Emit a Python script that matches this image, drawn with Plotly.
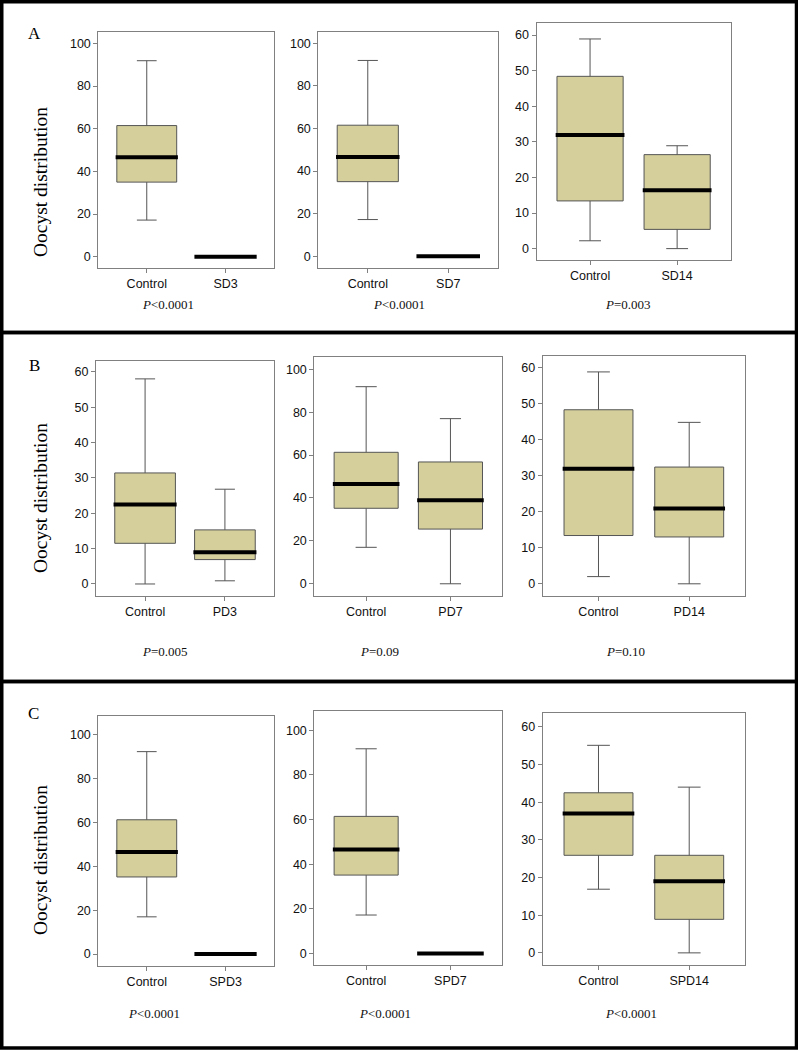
import plotly.graph_objects as go

W, H = 798, 1050

# ---------------- data (lower whisker, Q1, median, Q3, upper whisker) ----------------
labels_SD3 = ["Control", "SD3"]
SD3_control = [17.2, 35.0, 46.6, 61.5, 91.9]
SD3_treated = [0.0, 0.0, 0.0, 0.0, 0.0]

labels_SD7 = ["Control", "SD7"]
SD7_control = [17.2, 35.0, 46.6, 61.5, 91.9]
SD7_treated = [0.0, 0.0, 0.0, 0.0, 0.0]

labels_SD14 = ["Control", "SD14"]
SD14_control = [2.2, 13.4, 31.9, 48.4, 58.9]
SD14_treated = [0.0, 5.4, 16.4, 26.4, 28.9]

labels_PD3 = ["Control", "PD3"]
PD3_control = [0.0, 11.5, 22.5, 31.4, 58.0]
PD3_treated = [0.9, 6.9, 9.0, 15.3, 26.8]

labels_PD7 = ["Control", "PD7"]
PD7_control = [17.0, 35.2, 46.5, 61.3, 91.9]
PD7_treated = [0.0, 25.5, 38.9, 56.8, 77.0]

labels_PD14 = ["Control", "PD14"]
PD14_control = [2.0, 13.4, 31.9, 48.3, 58.8]
PD14_treated = [0.0, 13.0, 20.9, 32.4, 44.8]

labels_SPD3 = ["Control", "SPD3"]
SPD3_control = [17.0, 35.2, 46.6, 61.3, 92.4]
SPD3_treated = [0.0, 0.0, 0.0, 0.0, 0.0]

labels_SPD7 = ["Control", "SPD7"]
SPD7_control = [17.2, 35.1, 46.6, 61.4, 91.7]
SPD7_treated = [0.0, 0.0, 0.0, 0.0, 0.0]

labels_SPD14 = ["Control", "SPD14"]
SPD14_control = [16.9, 25.9, 37.0, 42.5, 55.1]
SPD14_treated = [0.0, 8.9, 19.0, 25.9, 44.0]

p_values = ["P<0.0001", "P<0.0001", "P=0.003",
            "P=0.005", "P=0.09", "P=0.10",
            "P<0.0001", "P<0.0001", "P<0.0001"]

ticks_100 = [0, 20, 40, 60, 80, 100]
ticks_60 = [0, 10, 20, 30, 40, 50, 60]
panel_letters = ["A", "B", "C"]
y_title = "Oocyst distribution"

# ---------------- layout geometry (pixels) ----------------
panels = [
    (labels_SD3, SD3_control, SD3_treated, ticks_100, (-5.4, 105.5), (98.3, 274, 31.7, 268.3)),
    (labels_SD7, SD7_control, SD7_treated, ticks_100, (-5.4, 105.4), (318.3, 497.7, 31.7, 267.7)),
    (labels_SD14, SD14_control, SD14_treated, ticks_60, (-3.2, 63.3), (536.5, 730.7, 23.3, 260)),
    (labels_PD3, PD3_control, PD3_treated, ticks_60, (-3.4, 63.2), (96, 274, 360.5, 596)),
    (labels_PD7, PD7_control, PD7_treated, ticks_100, (-5.7, 105.6), (314.3, 502.3, 357.3, 596)),
    (labels_PD14, PD14_control, PD14_treated, ticks_60, (-3.3, 63.3), (542.7, 745, 355.7, 595.7)),
    (labels_SPD3, SPD3_control, SPD3_treated, ticks_100, (-5.3, 108.8), (98.3, 274, 715.7, 965.7)),
    (labels_SPD7, SPD7_control, SPD7_treated, ticks_100, (-5.2, 108.5), (314.3, 502.3, 711.3, 965)),
    (labels_SPD14, SPD14_control, SPD14_treated, ticks_60, (-3.3, 63.6), (542.7, 745, 713.3, 965.3)),
]
p_pos = [(168, 304), (399, 304), (628, 304),
         (165, 651), (379, 651), (625, 651),
         (154, 1013), (385, 1013), (631, 1013)]
letter_pos = [(34, 33), (34, 365), (33, 713)]
ytitle_pos = [(40, 182), (40, 498), (40, 860)]
panel_rects = [(1.75, 796.5, 1.75, 332.5), (1.75, 796.5, 332.5, 681.5), (1.75, 796.5, 681.5, 1048)]

FILL = "#D4CF9B"
EDGE = "#555555"
FRAME = "#808080"
SANS = "Liberation Sans, Arial, sans-serif"
SERIF = "Liberation Serif, Times New Roman, serif"
X_RANGE = [0.385, 2.615]
BOX_W = 0.76
MED_HALF = 0.395

fig = go.Figure()
layout_axes = {}
for i, (labels, ctrl, trt, yt, yr, (x0, x1, y0, y1)) in enumerate(panels):
    n = i + 1
    xa = "x" if n == 1 else f"x{n}"
    ya = "y" if n == 1 else f"y{n}"
    pos = [1, 2]
    stats = [ctrl, trt]
    fig.add_trace(go.Box(
        x=pos,
        lowerfence=[s[0] for s in stats],
        q1=[s[1] for s in stats],
        median=[s[2] for s in stats],
        q3=[s[3] for s in stats],
        upperfence=[s[4] for s in stats],
        width=BOX_W, whiskerwidth=0.33,
        fillcolor=FILL, line=dict(color=EDGE, width=1),
        boxpoints=False, showlegend=False, hoverinfo="skip",
        xaxis=xa, yaxis=ya,
    ))
    mx, my = [], []
    for p, s in zip(pos, stats):
        mx += [p - MED_HALF, p + MED_HALF, None]
        my += [s[2], s[2], None]
    fig.add_trace(go.Scatter(x=mx, y=my, mode="lines",
                             line=dict(color="black", width=4),
                             showlegend=False, hoverinfo="skip",
                             xaxis=xa, yaxis=ya))
    xkey = "xaxis" if n == 1 else f"xaxis{n}"
    ykey = "yaxis" if n == 1 else f"yaxis{n}"
    layout_axes[xkey] = dict(
        domain=[x0 / W, x1 / W], anchor=ya, range=X_RANGE,
        tickmode="array", tickvals=pos, ticktext=labels,
        ticks="outside", ticklen=4, tickcolor=FRAME, tickwidth=1,
        showline=True, linecolor=FRAME, linewidth=1, mirror=True,
        showgrid=False, zeroline=False,
        tickfont=dict(family=SANS, size=12.5, color="#111111"),
    )
    layout_axes[ykey] = dict(
        domain=[1 - y1 / H, 1 - y0 / H], anchor=xa, range=list(yr),
        tickmode="array", tickvals=yt,
        ticks="outside", ticklen=4, tickcolor=FRAME, tickwidth=1,
        showline=True, linecolor=FRAME, linewidth=1, mirror=True,
        showgrid=False, zeroline=False,
        tickfont=dict(family=SANS, size=12.5, color="#111111"),
    )

annotations = []
for txt, (px, py) in zip(p_values, p_pos):
    t = "<i>P</i>" + txt[1:].replace("<", "&lt;")
    annotations.append(dict(text=t, x=px / W, y=1 - py / H, xref="paper", yref="paper",
                            showarrow=False, xanchor="center", yanchor="middle",
                            font=dict(family=SERIF, size=13, color="#111111")))
for L, (px, py) in zip(panel_letters, letter_pos):
    annotations.append(dict(text=L, x=px / W, y=1 - py / H, xref="paper", yref="paper",
                            showarrow=False, xanchor="center", yanchor="middle",
                            font=dict(family=SERIF, size=17, color="black")))
for (px, py) in ytitle_pos:
    annotations.append(dict(text=y_title, x=px / W, y=1 - py / H, xref="paper", yref="paper",
                            showarrow=False, xanchor="center", yanchor="middle", textangle=-90,
                            font=dict(family=SERIF, size=19.5, color="black")))

shapes = []
for (x0, x1, y0, y1) in panel_rects:
    shapes.append(dict(type="rect", xref="paper", yref="paper",
                       x0=x0 / W, x1=x1 / W, y0=1 - y1 / H, y1=1 - y0 / H,
                       line=dict(color="black", width=3.5), fillcolor="rgba(0,0,0,0)"))

fig.update_layout(
    width=W, height=H,
    margin=dict(l=0, r=0, t=0, b=0),
    paper_bgcolor="white", plot_bgcolor="white",
    annotations=annotations, shapes=shapes,
    boxmode="overlay",
    **layout_axes,
)

fig.write_html(
    "out.html",
    config={"displayModeBar": False, "staticPlot": True},
    post_script="document.body.style.margin='0';document.body.style.padding='0';"
                "document.body.style.overflow='hidden';",
)
